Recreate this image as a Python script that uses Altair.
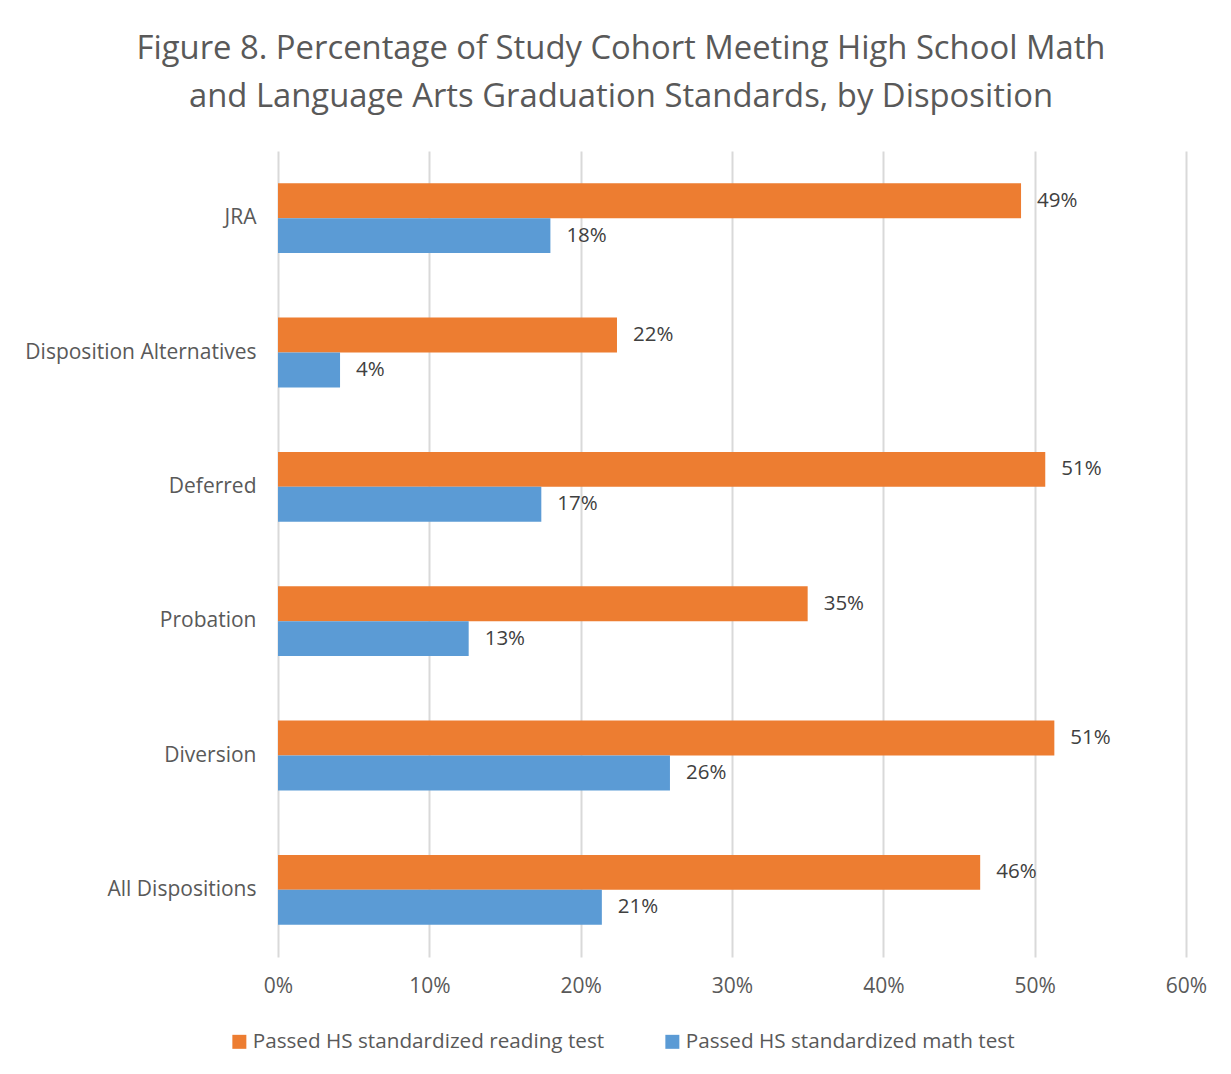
import altair as alt
import pandas as pd

categories = ["JRA", "Disposition Alternatives", "Deferred", "Probation", "Diversion", "All Dispositions"]
series = ["Passed HS standardized reading test", "Passed HS standardized math test"]
reading_pct = [49.1, 22.4, 50.7, 35.0, 51.3, 46.4]
math_pct = [18.0, 4.1, 17.4, 12.6, 25.9, 21.4]
x_ticks = [0.0, 0.1, 0.2, 0.3, 0.4, 0.5, 0.6]
colors = ["#ED7D31", "#5B9BD5"]

rows = []
for c, r, m in zip(categories, reading_pct, math_pct):
    rows.append({"category": c, "series": series[0], "value": r / 100})
    rows.append({"category": c, "series": series[1], "value": m / 100})
df = pd.DataFrame(rows)

FONT = "Open Sans"
GRAY = "#595959"

y_enc = alt.Y(
    "category:N",
    sort=categories,
    title=None,
    scale=alt.Scale(paddingInner=0.48, paddingOuter=0.24),
    axis=alt.Axis(domain=False, ticks=False, labelPadding=22, labelFontSize=21,
                  labelFont=FONT, labelColor=GRAY, labelLimit=400),
)
yoff = alt.YOffset("series:N", sort=series, scale=alt.Scale(paddingInner=0, paddingOuter=0))
x_enc = alt.X(
    "value:Q",
    title=None,
    scale=alt.Scale(domain=[0, 0.6], nice=False, zero=True),
    axis=alt.Axis(values=x_ticks, format=".0%", domain=False, ticks=False, grid=True,
                  gridColor="#D9D9D9", gridWidth=2, labelPadding=18, labelFontSize=21,
                  labelFont=FONT, labelColor=GRAY, labelFlush=False),
)

bars = alt.Chart(df).mark_bar().encode(
    x=x_enc,
    y=y_enc,
    yOffset=yoff,
    color=alt.Color(
        "series:N",
        sort=series,
        scale=alt.Scale(domain=series, range=colors),
        legend=alt.Legend(
            title=None, orient="none", direction="horizontal", legendX=-49, legendY=880,
            symbolType="square", symbolSize=196, symbolStrokeWidth=0, labelFontSize=20.7,
            labelFont=FONT, labelColor=GRAY, labelOffset=3, columnPadding=57, padding=0,
            labelLimit=500,
        ),
    ),
)

labels = alt.Chart(df).mark_text(align="left", baseline="middle", dx=16, fontSize=20.5,
                                 font=FONT, color="#404040").encode(
    x="value:Q",
    y=alt.Y("category:N", sort=categories),
    yOffset=alt.YOffset("series:N", sort=series),
    text=alt.Text("value:Q", format=".0%"),
)

chart = (
    alt.layer(bars, labels)
    .properties(
        width=908,
        height=806,
        autosize=alt.AutoSizeParams(type="none"),
        padding={"left": 270, "top": 143, "right": 37, "bottom": 109},
        title=alt.TitleParams(
            text=["Figure 8. Percentage of Study Cohort Meeting High School Math",
                  "and Language Arts Graduation Standards, by Disposition"],
            font=FONT, fontSize=32.8, fontWeight="normal", color=GRAY, anchor="middle",
            dx=-111, offset=37, lineHeight=48,
        ),
        background="white",
    )
    .configure_view(stroke=None)
)

chart.save("out.html", embed_options={"renderer": "svg", "actions": False})
